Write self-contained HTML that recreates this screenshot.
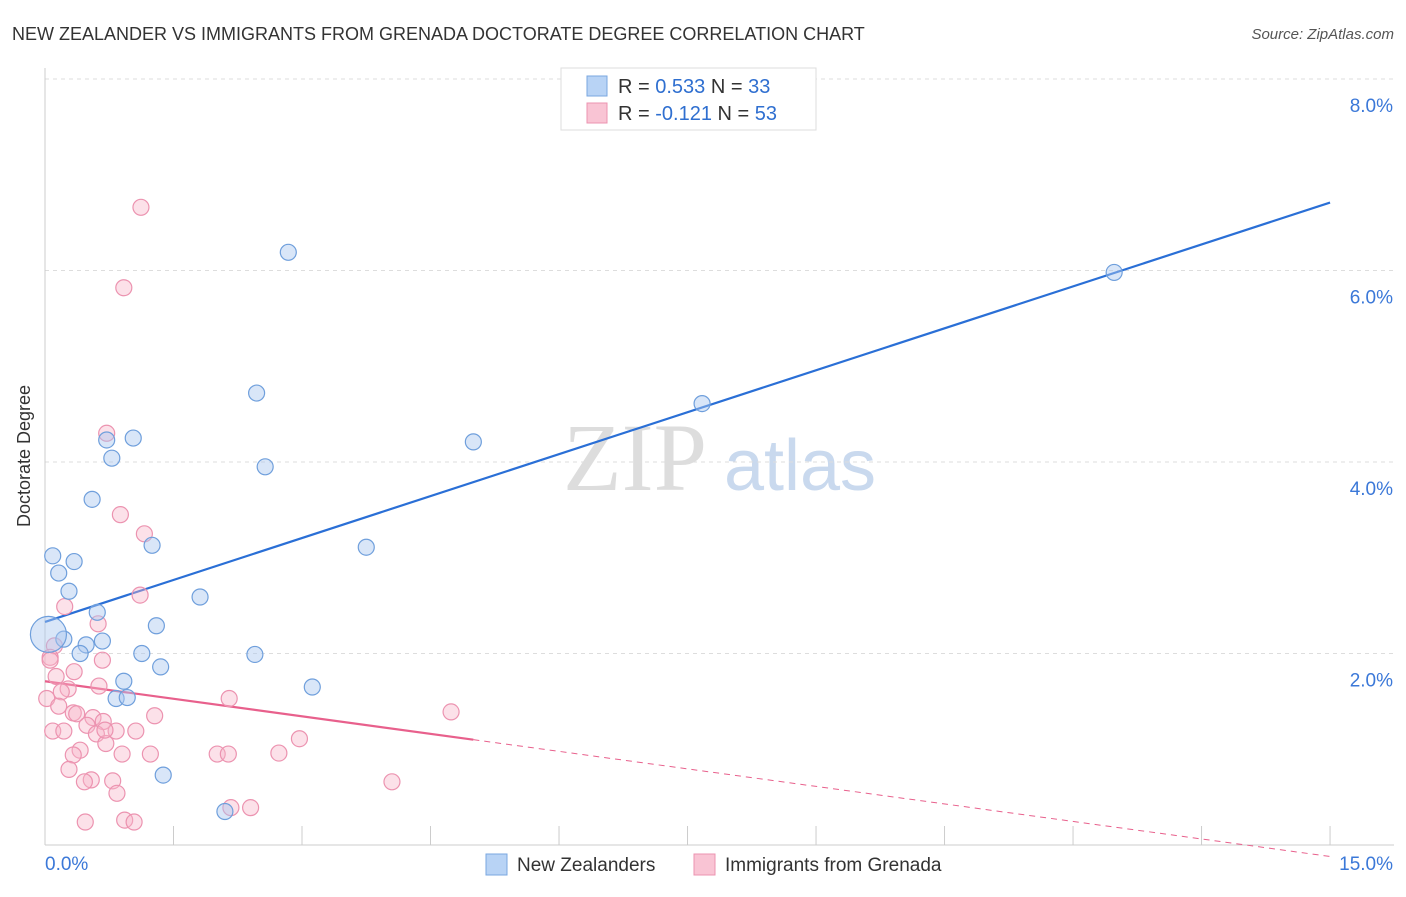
<!DOCTYPE html>
<html><head><meta charset="utf-8"><style>
body{margin:0;background:#fff;font-family:"Liberation Sans",sans-serif;}
</style></head><body>
<svg id="c" width="1406" height="892" xmlns="http://www.w3.org/2000/svg">
<text x="12" y="40" font-size="18" fill="#333">NEW ZEALANDER VS IMMIGRANTS FROM GRENADA DOCTORATE DEGREE CORRELATION CHART</text>
<text x="1394" y="39" font-size="15" fill="#555" font-style="italic" text-anchor="end">Source: ZipAtlas.com</text>
<text x="30" y="456" font-size="18" fill="#333" text-anchor="middle" transform="rotate(-90 30 456)">Doctorate Degree</text>
<g id="wm"><text x="635" y="490" font-size="96" fill="#ddd" font-family="Liberation Serif,serif" text-anchor="middle">ZIP</text><text x="800" y="490" font-size="72" fill="#c9d9ee" text-anchor="middle">atlas</text></g>
<g id="grid"></g><g id="axes"></g><g id="lines"></g><g id="pts"></g>
<g>
<rect x="561" y="68" width="255" height="62" fill="#fff" stroke="#ddd"/>
<rect x="587" y="76" width="20" height="20" fill="#b8d3f5" stroke="#7aa7e0"/>
<rect x="587" y="103" width="20" height="20" fill="#f9c4d4" stroke="#ec93b0"/>
<text x="618" y="93" font-size="20" fill="#333">R = <tspan fill="#2f6fd0">0.533</tspan>   N = <tspan fill="#2f6fd0">33</tspan></text>
<text x="618" y="120" font-size="20" fill="#333">R = <tspan fill="#2f6fd0">-0.121</tspan>   N = <tspan fill="#2f6fd0">53</tspan></text>
</g>
<g>
<rect x="486" y="854" width="21" height="21" fill="#b8d3f5" stroke="#7aa7e0"/>
<text x="517" y="871" font-size="19" fill="#333">New Zealanders</text>
<rect x="694" y="854" width="21" height="21" fill="#f9c4d4" stroke="#ec93b0"/>
<text x="725" y="871" font-size="19" fill="#333">Immigrants from Grenada</text>
</g>
</svg>
<script>
const xTicks=[0,1.5,3,4.5,6,7.5,9,10.5,12,13.5,15];
const yTicks=[2,4,6,8];
const yTickLabels=["2.0%","4.0%","6.0%","8.0%"];
const xEndLabels=["0.0%","15.0%"];
const blueX=[2.84,12.48,2.47,7.67,5.00,1.03,0.72,0.78,2.57,0.55,1.25,3.75,0.09,0.34,0.16,0.28,1.81,0.61,1.30,0.22,0.67,0.48,0.41,1.13,2.45,1.35,3.12,0.92,0.83,0.96,1.38,2.10,0.04];
const blueY=[6.19,5.98,4.72,4.61,4.21,4.25,4.23,4.04,3.95,3.61,3.13,3.11,3.02,2.96,2.84,2.65,2.59,2.43,2.29,2.15,2.13,2.09,2.00,2.00,1.99,1.86,1.65,1.71,1.53,1.54,0.73,0.35,2.20];
const pinkX=[1.12,0.92,0.72,0.88,1.16,1.11,0.23,0.62,0.11,0.06,0.67,0.34,0.13,0.63,0.27,0.19,2.15,0.02,0.16,0.33,0.37,0.56,4.74,1.28,0.68,0.49,0.83,1.06,0.09,0.22,2.97,0.60,0.71,0.41,0.33,1.23,0.90,2.01,2.14,2.73,0.28,0.54,0.46,0.79,4.05,0.84,2.17,2.40,0.47,0.93,1.04,0.06,0.70];
const pinkY=[6.66,5.82,4.30,3.45,3.25,2.61,2.49,2.31,2.08,1.96,1.93,1.81,1.76,1.66,1.63,1.60,1.53,1.53,1.45,1.38,1.37,1.33,1.39,1.35,1.29,1.25,1.19,1.19,1.19,1.19,1.11,1.16,1.06,0.99,0.94,0.95,0.95,0.95,0.95,0.96,0.79,0.68,0.66,0.67,0.66,0.54,0.39,0.39,0.24,0.26,0.24,1.93,1.20];
const blueTrend=[2.33,6.71];
const pinkTrend=[1.71,-0.12];
const pinkSolidEnd=5.0;
const X=v=>45+v*85.67, Y=v=>845-v*95.75;
const NS="http://www.w3.org/2000/svg";
function mk(p,t,a){const e=document.createElementNS(NS,t);for(const k in a)e.setAttribute(k,a[k]);document.getElementById(p).appendChild(e);return e;}
yTicks.forEach((t,i)=>{
 const l=mk('grid','line',{x1:45,x2:1394,y1:Y(t),y2:Y(t),stroke:'#ddd','stroke-dasharray':'4,4'});
 
 
 const tx=mk('axes','text',{x:1393,y:Y(t)+33,'font-size':19,fill:'#3b78d8','text-anchor':'end'});tx.textContent=yTickLabels[i];
 
 
});
const ax=mk('axes','line',{x1:45,x2:45,y1:68,y2:845,stroke:'#ccc'});


const bx=mk('axes','line',{x1:45,x2:1394,y1:845,y2:845,stroke:'#ccc'});


xTicks.forEach(t=>{const l=mk('axes','line',{x1:X(t),x2:X(t),y1:826,y2:845,stroke:'#ccc'});
 
 });
const l0=mk('axes','text',{x:45,y:870,'font-size':19,fill:'#3b78d8'});l0.textContent=xEndLabels[0];


const l1=mk('axes','text',{x:1393,y:870,'font-size':19,fill:'#3b78d8','text-anchor':'end'});l1.textContent=xEndLabels[1];


const bt=v=>blueTrend[0]+(blueTrend[1]-blueTrend[0])*v/15;
const pt=v=>pinkTrend[0]+(pinkTrend[1]-pinkTrend[0])*v/15;
const b=mk('lines','line',{x1:X(0),y1:Y(bt(0)),x2:X(15),y2:Y(bt(15)),stroke:'#2a6fd6','stroke-width':2.2});


const p=mk('lines','line',{x1:X(0),y1:Y(pt(0)),x2:X(pinkSolidEnd),y2:Y(pt(pinkSolidEnd)),stroke:'#e8608c','stroke-width':2.2});


const pd=mk('lines','line',{x1:X(pinkSolidEnd),y1:Y(pt(pinkSolidEnd)),x2:X(15),y2:Y(pt(15)),stroke:'#e8608c','stroke-width':1,'stroke-dasharray':'6,5'});


pinkX.forEach((v,i)=>{const c=mk('pts','circle',{cx:X(v),cy:Y(pinkY[i]),r:8,fill:'rgba(248,180,200,0.4)',stroke:'#ec93b0','stroke-width':1.2});
 
 });
blueX.forEach((v,i)=>{const c=mk('pts','circle',{cx:X(v),cy:Y(blueY[i]),r:i==blueX.length-1?18:8,fill:'rgba(170,200,240,0.45)',stroke:'#6f9fdc','stroke-width':1.2});
 
 });
</script>
</body></html>
